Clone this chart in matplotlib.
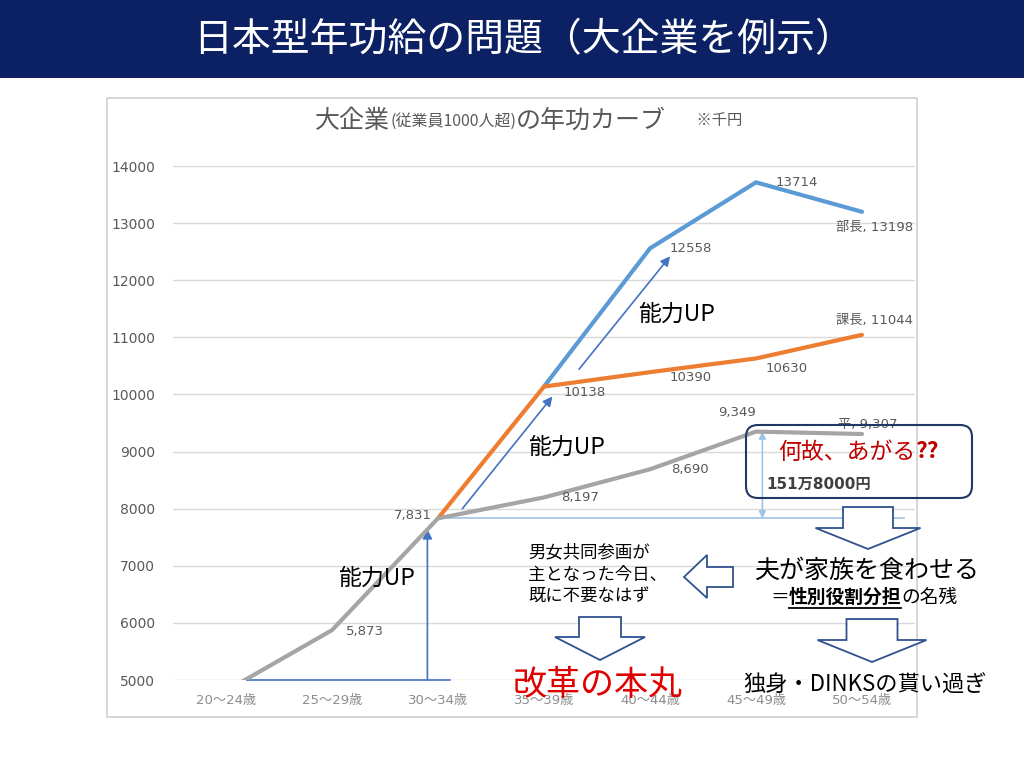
import numpy as np
import matplotlib
matplotlib.use('Agg')
import matplotlib.pyplot as plt
from matplotlib.patches import Rectangle, Polygon, FancyBboxPatch
from matplotlib.lines import Line2D
from matplotlib.transforms import Affine2D

plt.rcParams['font.family'] = ['Noto Sans CJK JP', 'DejaVu Sans']

# data (千円)
ages = ['20〜24歳', '25〜29歳', '30〜34歳', '35〜39歳', '40〜44歳', '45〜49歳', '50〜54歳']
buchou = [np.nan, np.nan, np.nan, 10138, 12558, 13714, 13198]
kachou = [np.nan, np.nan, 7831, 10138, 10390, 10630, 11044]
hira = [4810, 5873, 7831, 8197, 8690, 9349, 9307]
yticks = [5000, 6000, 7000, 8000, 9000, 10000, 11000, 12000, 13000, 14000]

buchou_labels = [None, None, None, None, '12558', '13714', '部長, 13198']
kachou_labels = [None, None, None, '10138', '10390', '10630', '課長, 11044']
hira_labels = [None, '5,873', '7,831', '8,197', '8,690', '9,349', '平, 9,307']

# label offsets in points
buchou_off = [None, None, None, None, (29, 0), (29, 0), (9, -11)]
kachou_off = [None, None, None, (29, -4), (29, -4), (22, -7), (9, 10)]
hira_off = [None, (24, -1), (-18, 2), (26, 0), (29, 0), (-14, 14), (4, 7)]

fig = plt.figure(figsize=(10.24, 7.68), dpi=100)
# pixel coords, origin top-left
T = Affine2D().scale(1 / 1024, -1 / 768).translate(0, 1) + fig.transFigure

# title bar
fig.patches.append(Rectangle((0, 0), 1024, 78, transform=T, facecolor='#0B2163', edgecolor='none'))
fig.text(524, 40, '日本型年功給の問題（大企業を例示）', transform=T, color='white',
         fontsize=28, ha='center', va='center')

# chart frame
fig.patches.append(Rectangle((107, 98), 810, 619, transform=T, facecolor='none',
                             edgecolor='#D0D0D0', lw=1.2))

ax = fig.add_axes([173 / 1024, 1 - 680 / 768, 742 / 1024, 514 / 768])
ax.set_facecolor('none')
ax.set_zorder(2)
x = np.arange(len(ages))
ax.plot(x, buchou, color='#5B9BD5', lw=3, solid_capstyle='round', zorder=3)
ax.plot(x, kachou, color='#ED7D31', lw=3, solid_capstyle='round', zorder=4)
ax.plot(x, hira, color='#A5A5A5', lw=3, solid_capstyle='round', zorder=5)

for vals, labs, offs in [(buchou, buchou_labels, buchou_off),
                         (kachou, kachou_labels, kachou_off),
                         (hira, hira_labels, hira_off)]:
    for i, (v, s, o) in enumerate(zip(vals, labs, offs)):
        if s is None:
            continue
        ax.annotate(s, (i, v), xytext=o, textcoords='offset points', ha='center', va='center',
                    fontsize=9.5, color='#595959', family=['DejaVu Sans', 'Noto Sans CJK JP'],
                    zorder=6)

ax.set_xlim(-0.5, 6.5)
ax.set_ylim(5000, 14000)
ax.set_yticks(yticks)
ax.set_yticklabels([str(t) for t in yticks], family=['DejaVu Sans'], fontsize=10, color='#595959')
ax.set_xticks(x)
ax.set_xticklabels(ages, family=['DejaVu Sans', 'Noto Sans CJK JP'], fontsize=9.5, color='#8C8C8C')
ax.tick_params(length=0)
ax.tick_params(axis='y', pad=13)
ax.tick_params(axis='x', pad=10)
ax.grid(axis='y', color='#D9D9D9', lw=1)
ax.set_axisbelow(True)
for sp in ax.spines.values():
    sp.set_visible(False)

# blue helper arrows
blue = '#4472C4'
ax.plot([0.2, 2.11], [5000, 5000], color=blue, lw=1.2, clip_on=False, zorder=2)
ax.annotate('', xy=(1.9, 7640), xytext=(1.9, 5000),
            arrowprops=dict(arrowstyle='-|>', color=blue, lw=1.2, mutation_scale=14, shrinkA=0, shrinkB=0))
ax.annotate('', xy=(3.08, 9965), xytext=(2.23, 8000),
            arrowprops=dict(arrowstyle='-|>', color=blue, lw=1.2, mutation_scale=14, shrinkA=0, shrinkB=0))
ax.annotate('', xy=(4.19, 12420), xytext=(3.33, 10440),
            arrowprops=dict(arrowstyle='-|>', color=blue, lw=1.2, mutation_scale=14, shrinkA=0, shrinkB=0))

# light blue gap line and arrow (9,349 - 7,831 = 1,518)
ax.plot([2, 6.4], [hira[2], hira[2]], color='#9DC3E6', lw=1.2, zorder=2)
ax.annotate('', xy=(5.06, hira[5]), xytext=(5.06, hira[2]),
            arrowprops=dict(arrowstyle='<|-|>', color='#9DC3E6', lw=1.2, mutation_scale=10, shrinkA=0, shrinkB=0))

fig.canvas.draw()
renderer = fig.canvas.get_renderer()


def chain(x0, y, parts):
    boxes = []
    for s, kw in parts:
        t = fig.text(x0, y, s, transform=T, ha='left', va='center', **kw)
        bb = t.get_window_extent(renderer)
        boxes.append(bb)
        x0 += bb.width
    return boxes


# chart title
g = '#595959'
chain(315, 121, [('大企業', dict(fontsize=18, color=g)),
                 ('(従業員1000人超)', dict(fontsize=11.5, color=g)),
                 ('の年功カーブ', dict(fontsize=18, color=g)),
                 ('　　※千円', dict(fontsize=11, color=g))])

# 能力UP labels
for px, py in [(338, 578), (528, 447), (638, 314)]:
    fig.text(px, py, '能力UP', transform=T, fontsize=16.5, ha='left', va='center', color='black')

# rounded box
navy = '#2F528F'
fig.patches.append(FancyBboxPatch((746, 425), 226, 73, boxstyle='round,pad=0,rounding_size=12',
                                  transform=T, facecolor='none', edgecolor='#203864', lw=1.5, zorder=3))
chain(778, 452, [('何故、あがる', dict(fontsize=16.5, color='#C00000')),
                 ('??', dict(fontsize=16.5, color='#C00000', fontweight='bold'))])
fig.text(766, 484, '151万8000円', transform=T, fontsize=11, fontweight='bold', color='#404040',
         ha='left', va='center', family=['DejaVu Sans', 'Noto Sans CJK JP'])


def down_arrow(cx, top, sw, hw, head_top, tip):
    pts = [(cx - sw / 2, top), (cx + sw / 2, top), (cx + sw / 2, head_top), (cx + hw / 2, head_top),
           (cx, tip), (cx - hw / 2, head_top), (cx - sw / 2, head_top)]
    fig.patches.append(Polygon(pts, closed=True, transform=T, facecolor='white', edgecolor=navy,
                               lw=1.3, zorder=3))


down_arrow(868, 507, 50, 105, 528, 549)
down_arrow(600, 617, 42, 90, 637, 660)
down_arrow(872, 619, 51, 109, 640, 662)
fig.patches.append(Polygon([(733, 567), (733, 587), (707, 587), (707, 598), (684, 577), (707, 555), (707, 567)],
                           closed=True, transform=T, facecolor='white', edgecolor=navy, lw=1.3, zorder=3))

# texts
for i, s in enumerate(['男女共同参画が', '主となった今日、', '既に不要なはず']):
    fig.text(528, 552 + i * 22.5, s, transform=T, fontsize=12.5, ha='left', va='center', color='black')
fig.text(867, 571, '夫が家族を食わせる', transform=T, fontsize=18, ha='center', va='center', color='black')
bbs = chain(770, 597, [('＝', dict(fontsize=13.5, color='black')),
                       ('性別役割分担', dict(fontsize=13.5, color='black', fontweight='bold')),
                       ('の名残', dict(fontsize=13.5, color='black'))])
fig.lines.append(Line2D([bbs[1].x0, bbs[1].x1], [608, 608], transform=T, color='black', lw=1.3))
fig.text(513, 685, '改革の本丸', transform=T, fontsize=24.5, ha='left', va='center', color='#E00000')
fig.text(743, 685, '独身・DINKSの貰い過ぎ', transform=T, fontsize=16, ha='left', va='center', color='black')

fig.savefig('out.png', dpi=100)
